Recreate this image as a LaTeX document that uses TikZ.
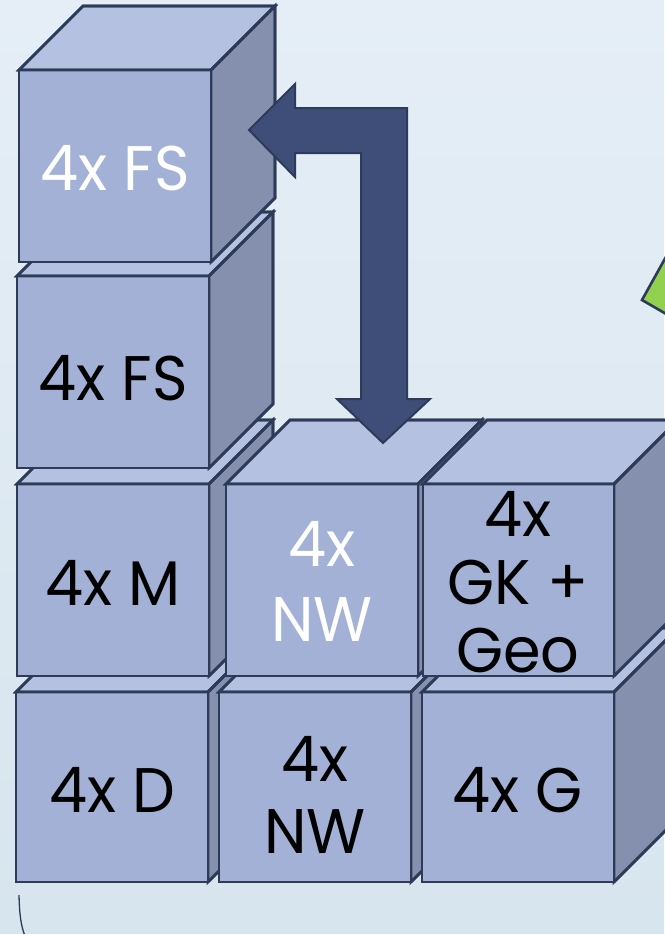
\documentclass[tikz,border=0pt]{standalone}
\usepackage{fontspec}
\setmainfont{Poppins}[FakeStretch=0.96]
\definecolor{bgtop}{HTML}{E5EEF6}
\definecolor{bgbot}{HTML}{D7E5EE}
\definecolor{cfront}{HTML}{A3B1D6}
\definecolor{ctop}{HTML}{B5C1E0}
\definecolor{cside}{HTML}{8490AD}
\definecolor{cline}{HTML}{2D3A58}
\definecolor{carrow}{HTML}{3F4E78}
\definecolor{cgreen}{HTML}{92D050}
\tikzset{
  face/.style={draw=cline, line width=2.6pt, line join=miter},
  label/.style={font=\fontsize{63}{70}\selectfont, align=center, inner sep=0pt},
}
% #1 x, #2 y (front top-left), #3 width, #4 height
\newcommand\cubeat[4]{%
  \begin{scope}[shift={(#1,#2)}]
    \fill[face, fill=ctop] (0,0) -- (64,-64) -- (#3+64,-64) -- (#3,0) -- cycle;
    \fill[face, fill=cside] (#3,0) -- (#3+64,-64) -- (#3+64,#4-64) -- (#3,#4) -- cycle;
    \fill[face, fill=cfront] (0,0) rectangle (#3,#4);
    \draw[face] (0,0) -- (64,-64) -- (#3+64,-64) -- (#3,0) -- cycle;
    \draw[face] (#3,0) -- (#3+64,-64) -- (#3+64,#4-64) -- (#3,#4);
    \draw[face] (0,0) rectangle (#3,#4);
  \end{scope}}
\begin{document}
\begin{tikzpicture}[x=1pt,y=-1pt]
\useasboundingbox (0,0) rectangle (664,934);
\shade[top color=bgtop, bottom color=bgbot] (0,0) rectangle (664,934);

% green shape at right edge
\filldraw[fill=cgreen, draw=cline, line width=2.6pt] (672,246) -- (642,300) -- (680,322) -- cycle;

% bottom row
\cubeat{16}{692}{192}{190}
\node[label] (d) at (112,790) {4x D};
\cubeat{219}{692}{192}{190}
\node[label, font=\fontsize{63}{72}\selectfont] (nw2) at (315,795) {4x\\NW};
\cubeat{422}{692}{192}{190}
\node[label] (g) at (518,790) {4x G};

% third row
\cubeat{17}{484}{192}{192}
\node[label] (m) at (113,583) {4x M};
\cubeat{226}{484}{192}{192}
\node[label, text=white, font=\fontsize{63}{75}\selectfont] (nw1) at (322,581) {4x\\NW};
\cubeat{423}{484}{191}{192}
\node[label, font=\fontsize{63}{68}\selectfont] (gk) at (518,582) {4x\\GK +\\Geo};

% second row
\cubeat{17}{276}{192}{192}
\node[label] (fs2) at (113,378) {4x FS};

% top
\cubeat{19}{70}{192}{192}
\node[label, text=white] (fs1) at (115,168) {4x FS};

% bent arrow
\filldraw[fill=carrow, draw=cline, line width=2pt, line join=miter]
  (249,130) -- (295,84) -- (295,108) -- (407,108) -- (407,399) -- (430,399)
  -- (383,443) -- (337,399) -- (361,399) -- (361,153) -- (295,153) -- (295,177) -- cycle;

% thin curve at lower left
\draw[cline, line width=1.3pt] (19,895) .. controls (19.5,915) and (21,926) .. (25,936);
\end{tikzpicture}
\end{document}
